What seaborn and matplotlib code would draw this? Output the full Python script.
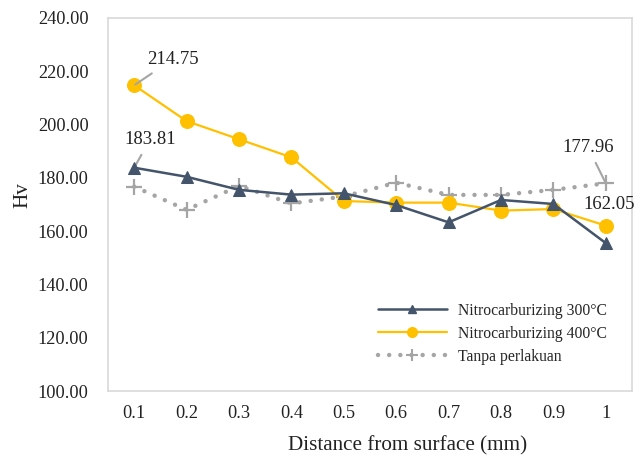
import matplotlib
matplotlib.use("Agg")
import matplotlib.pyplot as plt
from matplotlib.lines import Line2D
from matplotlib.ticker import FormatStrFormatter
import seaborn as sns
import pandas as pd

distance = ["0.1", "0.2", "0.3", "0.4", "0.5", "0.6", "0.7", "0.8", "0.9", "1"]
nitro_300 = [183.81, 180.4, 175.5, 173.7, 174.2, 169.8, 163.3, 171.7, 170.2, 155.5]
nitro_400 = [214.75, 201.3, 194.5, 187.7, 171.3, 170.7, 170.7, 167.7, 168.3, 162.05]
tanpa = [176.7, 168.0, 177.0, 170.4, 173.0, 178.2, 173.6, 173.6, 175.5, 177.96]

names = ["Nitrocarburizing 300°C", "Nitrocarburizing 400°C", "Tanpa perlakuan"]
colors = ["#44546A", "#FFC000", "#A5A5A5"]

sns.set_theme(style="white")
plt.rcParams["font.family"] = ["Liberation Serif", "DejaVu Serif"]

fig = plt.figure(figsize=(6.44, 4.57), dpi=100)
ax = fig.add_axes([108/644, 1-391/457, 524/644, 373/457])

df = pd.DataFrame({"x": distance, "a": nitro_300, "b": nitro_400, "c": tanpa})

sns.lineplot(data=df, x="x", y="c", ax=ax, color=colors[2], lw=3.2,
             linestyle=(0, (0.01, 2.5)), dash_capstyle="round",
             marker="+", markersize=12, markeredgewidth=1.6,
             markeredgecolor=colors[2], sort=False, zorder=2)
sns.lineplot(data=df, x="x", y="b", ax=ax, color=colors[1], lw=1.6,
             marker="o", markersize=10, markeredgecolor=colors[1],
             sort=False, zorder=3)
sns.lineplot(data=df, x="x", y="a", ax=ax, color=colors[0], lw=1.8,
             marker="^", markersize=9, markeredgecolor=colors[0],
             sort=False, zorder=4)

ax.set_xlim(-0.5, len(distance) - 0.5)
ax.set_ylim(100, 240)
ax.set_yticks(range(100, 241, 20))
ax.yaxis.set_major_formatter(FormatStrFormatter("%.2f"))
ax.tick_params(axis="both", length=0, labelsize=13.2, colors="#222222")
ax.tick_params(axis="y", pad=14)
ax.tick_params(axis="x", pad=10)
for s in ax.spines.values():
    s.set_color("#D9D9D9")
    s.set_linewidth(1.2)
ax.set_xlabel("Distance from surface (mm)", fontsize=15.2, color="#222222")
ax.xaxis.set_label_coords((408 - 108) / 524, (391 - 446) / 373)
ax.xaxis.label.set_va("center")
ax.set_ylabel("Hv", fontsize=15.2, color="#222222")
ax.yaxis.set_label_coords((23 - 108) / 524, (391 - 195) / 373)
ax.yaxis.label.set_va("center")

ann_kw = dict(textcoords="offset points", fontsize=13.5, color="#222222",
              ha="center", va="center")
arrow = dict(arrowstyle="-", color="#A5A5A5", lw=1.5, shrinkA=3, shrinkB=1)
ax.annotate(f"{nitro_400[0]:.2f}", xy=(0, nitro_400[0]), xytext=(27.7, 18.7),
            arrowprops=arrow, **ann_kw)
ax.annotate(f"{nitro_300[0]:.2f}", xy=(0, nitro_300[0]), xytext=(11.4, 20.4),
            arrowprops=arrow, **ann_kw)
ax.annotate(f"{tanpa[-1]:.2f}", xy=(9, tanpa[-1]), xytext=(-12.8, 25.9),
            arrowprops=arrow, **ann_kw)
ax.annotate(f"{nitro_400[-1]:.2f}", xy=(9, nitro_400[-1]), xytext=(2.5, 15.6),
            **ann_kw)

handles = [
    Line2D([], [], color=colors[0], lw=1.8, marker="^", markersize=6),
    Line2D([], [], color=colors[1], lw=1.6, marker="o", markersize=7),
    Line2D([], [], color=colors[2], lw=3.2, linestyle=(0, (0.01, 2.5)),
           dash_capstyle="round", marker="+", markersize=8, markeredgewidth=1.5),
]
ax.legend(handles, names, loc="upper left", bbox_to_anchor=(0.515, 0.237),
          frameon=False, fontsize=11.3, handlelength=4.4, handletextpad=0.7,
          labelspacing=0.45, borderpad=0, borderaxespad=0)

fig.savefig("out.png", dpi=100)
